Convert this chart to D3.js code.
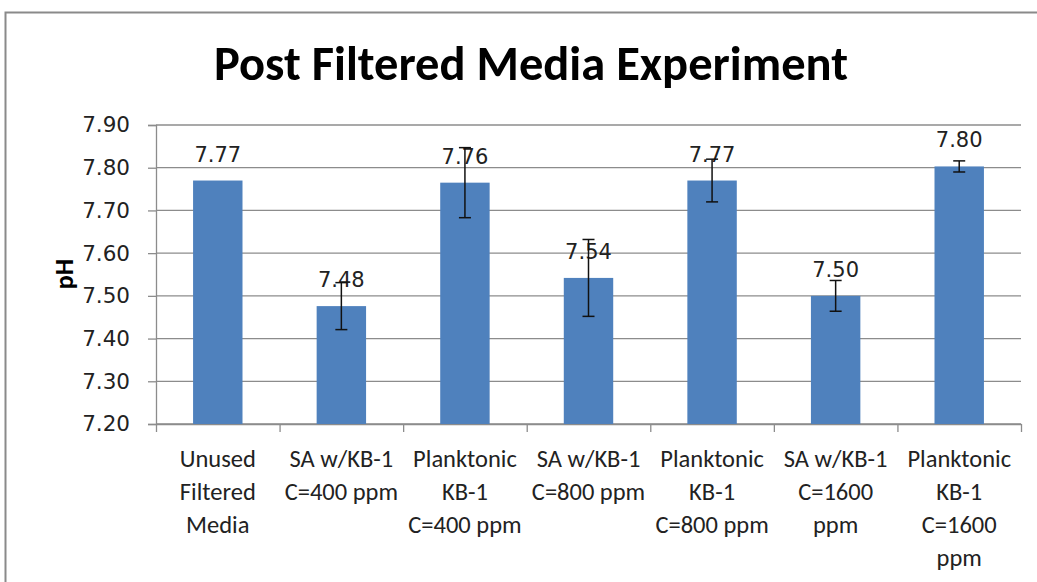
<!DOCTYPE html>
<html>
<head>
<meta charset="utf-8">
<script src="https://cdn.jsdelivr.net/npm/d3@7"></script>
<style>
  body { margin: 0; background: #fff; }
  svg { display: block; }
</style>
</head>
<body>
<svg id="drawing_region"></svg>
<script>
// data
const categories = [
    ["Unused", "Filtered", "Media"],
    ["SA w/KB-1", "C=400 ppm"],
    ["Planktonic", "KB-1", "C=400 ppm"],
    ["SA w/KB-1", "C=800 ppm"],
    ["Planktonic", "KB-1", "C=800 ppm"],
    ["SA w/KB-1", "C=1600", "ppm"],
    ["Planktonic", "KB-1", "C=1600", "ppm"]
];
const phValues = [7.77, 7.476, 7.765, 7.542, 7.770, 7.500, 7.803];
const errValues = [0, 0.055, 0.082, 0.09, 0.05, 0.036, 0.013];
const yTicks = [7.20, 7.30, 7.40, 7.50, 7.60, 7.70, 7.80, 7.90];

const config = {
    width: 1037,
    height: 582,
    margin: {top: 125, right: 16, bottom: 158, left: 156}
};

const svg = d3.select('#drawing_region')
    .attr('width', config.width)
    .attr('height', config.height);

// outer chart border
svg.append('rect')
    .attr('x', 5.5).attr('y', 12.5)
    .attr('width', 1100).attr('height', 700)
    .attr('fill', 'none')
    .attr('stroke', '#8a8a8a')
    .attr('stroke-width', 2);

svg.append('text')
    .attr('x', 531)
    .attr('y', 80)
    .attr('text-anchor', 'middle')
    .attr('font-family', 'Carlito, Calibri, Lato, sans-serif')
    .attr('font-size', '48.5px')
    .attr('font-weight', 700)
    .text('Post Filtered Media Experiment');

const inner_width = config.width - config.margin.left - config.margin.right;
const inner_height = config.height - config.margin.top - config.margin.bottom;

const chart = svg.append('g')
    .attr('transform', `translate(${config.margin.left}, ${config.margin.top})`);

const xscale = d3.scaleBand()
    .domain(d3.range(categories.length))
    .range([0, inner_width])
    .paddingInner(0.6)
    .paddingOuter(0.3);

const yscale = d3.scaleLinear()
    .domain([7.2, 7.9])
    .range([inner_height, 0]);

// gridlines
chart.append('g')
    .selectAll('line')
    .data(yTicks)
    .join('line')
    .attr('x1', 0).attr('x2', inner_width)
    .attr('y1', d => yscale(d)).attr('y2', d => yscale(d))
    .attr('stroke', '#8c8c8c')
    .attr('stroke-width', 1.3);

// y axis
const yaxis = d3.axisLeft(yscale)
    .tickValues(yTicks)
    .tickFormat(d3.format('.2f'))
    .tickSize(8)
    .tickPadding(18);

const yaxis_group = chart.append('g').call(yaxis);
yaxis_group.select('.domain').attr('stroke', '#8c8c8c').attr('stroke-width', 1.3);
yaxis_group.selectAll('.tick line').attr('stroke', '#8c8c8c').attr('stroke-width', 1.3);
yaxis_group.selectAll('.tick text')
    .attr('font-family', 'DejaVu Sans, Verdana, sans-serif')
    .attr('font-size', '21.5px')
    .attr('fill', '#222');

// x axis: ticks between categories
const xBoundary = d3.scaleLinear().domain([0, categories.length]).range([0, inner_width]);
const xaxis = d3.axisBottom(xBoundary)
    .tickValues(d3.range(categories.length + 1))
    .tickFormat('')
    .tickSize(8)
    .tickSizeOuter(0);
const xaxis_group = chart.append('g')
    .attr('transform', `translate(0, ${inner_height})`)
    .call(xaxis);
xaxis_group.select('.domain').attr('stroke', '#8c8c8c').attr('stroke-width', 1.3);
xaxis_group.selectAll('.tick line').attr('stroke', '#8c8c8c').attr('stroke-width', 1.3);

// category labels
const catLabels = chart.append('g')
    .selectAll('text')
    .data(categories)
    .join('text')
    .attr('text-anchor', 'middle')
    .attr('font-family', 'Carlito, Calibri, Lato, sans-serif')
    .attr('font-size', '24.5px')
    .attr('fill', '#222')
    .attr('transform', (d, i) => `translate(${xscale(i) + xscale.bandwidth() / 2}, ${inner_height + 43})`);
catLabels.selectAll('tspan')
    .data(d => d)
    .join('tspan')
    .attr('x', 0)
    .attr('y', (d, i) => i * 33)
    .text(d => d);

// y label
svg.append('text')
    .attr('transform', `translate(73, 274) rotate(-90)`)
    .attr('text-anchor', 'middle')
    .attr('font-family', 'Carlito, Calibri, Lato, sans-serif')
    .attr('font-size', '26px')
    .attr('font-weight', 700)
    .text('pH');

// bars
chart.append('g')
    .selectAll('rect')
    .data(phValues)
    .join('rect')
    .attr('x', (d, i) => xscale(i))
    .attr('y', d => yscale(d))
    .attr('width', xscale.bandwidth())
    .attr('height', d => inner_height - yscale(d))
    .attr('fill', '#4f81bd');

// data labels
chart.append('g')
    .selectAll('text')
    .data(phValues)
    .join('text')
    .attr('x', (d, i) => xscale(i) + xscale.bandwidth() / 2)
    .attr('y', d => yscale(d) - 19)
    .attr('text-anchor', 'middle')
    .attr('font-family', 'DejaVu Sans, Verdana, sans-serif')
    .attr('font-size', '21px')
    .attr('fill', '#222')
    .text(d => d.toFixed(2));

// error bars
const errData = phValues.map((v, i) => ({i: i, v: v, e: errValues[i]})).filter(d => d.e > 0);
const eb = chart.append('g')
    .attr('stroke', '#111')
    .attr('stroke-width', 1.5)
    .selectAll('g')
    .data(errData)
    .join('g')
    .attr('transform', d => `translate(${xscale(d.i) + xscale.bandwidth() / 2}, 0)`);
eb.append('line')
    .attr('x1', 0).attr('x2', 0)
    .attr('y1', d => yscale(d.v + d.e)).attr('y2', d => yscale(d.v - d.e));
eb.append('line')
    .attr('x1', -6).attr('x2', 6)
    .attr('y1', d => yscale(d.v + d.e)).attr('y2', d => yscale(d.v + d.e));
eb.append('line')
    .attr('x1', -6).attr('x2', 6)
    .attr('y1', d => yscale(d.v - d.e)).attr('y2', d => yscale(d.v - d.e));
</script>
</body>
</html>
